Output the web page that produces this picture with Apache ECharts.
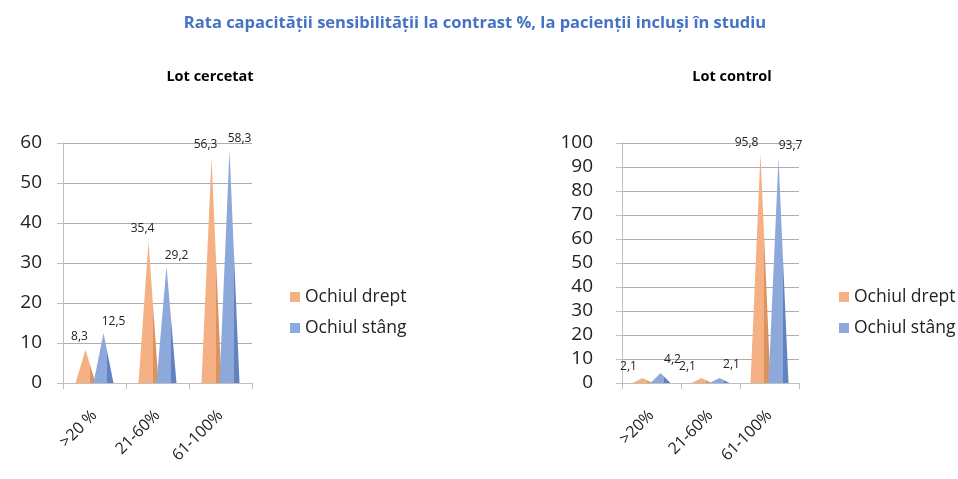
<!DOCTYPE html>
<html>
<head>
<meta charset="utf-8">
<script src="https://cdn.jsdelivr.net/npm/echarts@6/dist/echarts.min.js"></script>
<style>
html,body{margin:0;padding:0;background:#fff;}
#c{width:958px;height:479px;}
</style>
</head>
<body>
<div id="c"></div>
<script>
const categoriesCercetat = ['>20 %', '21-60%', '61-100%'];
const categoriesControl = ['>20%', '21-60%', '61-100%'];
const seriesNames = ['Ochiul drept', 'Ochiul stâng'];
const cercetatDrept = [8.3, 35.4, 56.3];
const cercetatStang = [12.5, 29.2, 58.3];
const controlDrept = [2.1, 2.1, 95.8];
const controlStang = [4.2, 2.1, 93.7];
const yTicksCercetat = {min: 0, max: 60, interval: 10};
const yTicksControl = {min: 0, max: 100, interval: 10};

const FONT = '"Open Sans", "Noto Sans", sans-serif';
const orangeLight = '#F5B184', orangeDark = '#DC9360';
const blueLight = '#8DA8DB', blueDark = '#6283C0';

function grad(light, dark) {
  return new echarts.graphic.LinearGradient(0, 0, 1, 0, [
    {offset: 0, color: light}, {offset: 0.7, color: light},
    {offset: 0.7, color: dark}, {offset: 1, color: dark}
  ]);
}
const fmt = p => String(p.value).replace('.', ',');

function xAxis(idx, cats) {
  return {
    type: 'category', gridIndex: idx, data: cats,
    axisLine: {show: true, lineStyle: {color: '#bfbfbf'}},
    axisTick: {show: true, length: 6, lineStyle: {color: '#bfbfbf'}},
    axisLabel: {rotate: 45, margin: 30, fontSize: 16, color: '#222', fontFamily: FONT}
  };
}
function yAxis(idx, t, margin) {
  return {
    type: 'value', gridIndex: idx, min: t.min, max: t.max, interval: t.interval,
    axisLine: {show: true, lineStyle: {color: '#bfbfbf'}},
    axisTick: {show: true, length: 6, lineStyle: {color: '#bfbfbf'}},
    splitLine: {show: true, lineStyle: {color: '#adadad'}},
    axisLabel: {fontSize: 19, color: '#222', fontFamily: FONT, margin: margin}
  };
}
function pyr(name, data, idx, light, dark, offs) {
  return {
    type: 'pictorialBar', name: name, xAxisIndex: idx, yAxisIndex: idx,
    data: data, symbol: 'triangle', symbolSize: ['100%', '100%'],
    barWidth: 20, barGap: '-10%',
    itemStyle: {color: grad(light, dark)},
    label: {show: true, position: 'top', offset: offs, formatter: fmt,
            fontSize: 12, color: '#222', fontFamily: FONT},
    z: 3
  };
}
function legend(left) {
  return {
    orient: 'vertical', left: left, top: 283, itemWidth: 10, itemHeight: 10, itemGap: 13,
    icon: 'rect',
    textStyle: {fontSize: 17.5, color: '#222', fontFamily: FONT},
    data: [{name: seriesNames[0], itemStyle: {color: '#F4B183'}},
           {name: seriesNames[1], itemStyle: {color: '#8EA9DB'}}]
  };
}

const chart = echarts.init(document.getElementById('c'));
chart.setOption({
  animation: false,
  title: [
    {text: 'Rata capacității sensibilității la contrast %, la pacienții incluși în studiu',
     left: 470, top: 10, textAlign: 'center',
     textStyle: {fontSize: 16.5, fontWeight: 'bold', color: '#4472C4', fontFamily: FONT}},
    {text: 'Lot cercetat', left: 205, top: 64, textAlign: 'center',
     textStyle: {fontSize: 14.5, fontWeight: 'bold', color: '#000', fontFamily: FONT}},
    {text: 'Lot control', left: 727, top: 64, textAlign: 'center',
     textStyle: {fontSize: 14.5, fontWeight: 'bold', color: '#000', fontFamily: FONT}}
  ],
  legend: [legend(285), legend(834)],
  grid: [
    {left: 63, top: 143, width: 189, height: 240},
    {left: 622, top: 143, width: 177, height: 240}
  ],
  xAxis: [xAxis(0, categoriesCercetat), xAxis(1, categoriesControl)],
  yAxis: [yAxis(0, yTicksCercetat, 21), yAxis(1, yTicksControl, 29)],
  series: [
    pyr(seriesNames[0], cercetatDrept, 0, orangeLight, orangeDark, [-6, -2]),
    pyr(seriesNames[1], cercetatStang, 0, blueLight, blueDark, [10, 0]),
    pyr(seriesNames[0], controlDrept, 1, orangeLight, orangeDark, [-14, 0]),
    pyr(seriesNames[1], controlStang, 1, blueLight, blueDark, [12, -2])
  ]
});
</script>
</body>
</html>
